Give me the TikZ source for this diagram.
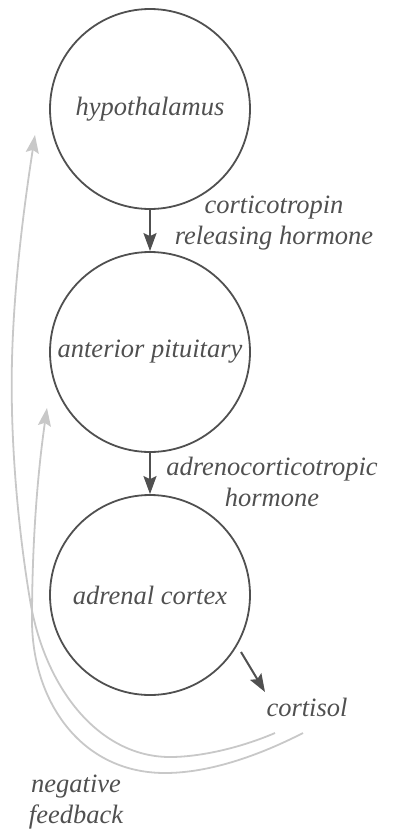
\documentclass[tikz,border=0pt]{standalone}
\usepackage{fontspec}
\setmainfont{Liberation Serif}
\usetikzlibrary{arrows.meta}
\definecolor{ink}{HTML}{505050}
\definecolor{fb}{HTML}{C8C8C8}
\tikzset{
  organ/.style={circle, draw=ink, line width=1.8pt, minimum size=200pt, inner sep=0pt,
    text=ink, font=\fontsize{26.5}{31}\selectfont\itshape},
  lbl/.style={text=ink, align=center, inner sep=0pt, font=\fontsize{26.5}{31}\selectfont\itshape},
  darrow/.style={draw=ink, line width=2pt, -{Stealth[length=18pt, width=13pt, inset=3pt]}},
  farrow/.style={draw=fb, line width=1.8pt, -{Stealth[length=18pt, width=13pt, inset=3pt]}}
}
\begin{document}
\begin{tikzpicture}[x=1pt, y=-1pt]
\useasboundingbox (0,0) rectangle (395,830);
\node[organ] (hypo) at (150,109) {hypothalamus};
\node[organ] (pit) at (150,352) {anterior pituitary};
\node[organ] (adr) at (150,595) {adrenal cortex};
\draw[darrow] (hypo.south) -- (pit.north);
\draw[darrow] (pit.south) -- (adr.north);
\node[lbl] (l1) at (274,223) {corticotropin\\releasing hormone};
\node[lbl] (l2) at (272,482) {adrenocorticotropic\\hormone};
\node[lbl] (cort) at (307,707) {cortisol};
\node[lbl] (neg) at (76,802) {negative\\feedback};
\coordinate (c1) at (241,652);
\coordinate (c2) at (265,692);
\draw[darrow] (c1) -- (c2);
% feedback to hypothalamus (inner curve)
\coordinate (s1) at (275,733);
\coordinate (t1) at (35,135);
\draw[farrow] (s1) .. controls (240,748) and (200,757) .. (170,757)
  .. controls (100,757) and (45,690) .. (30,600)
  .. controls (18,528) and (10,440) .. (12,360)
  .. controls (14,280) and (25,200) .. (t1);
% feedback to pituitary (outer curve)
\coordinate (s2) at (303,733);
\coordinate (t2) at (47,408);
\draw[farrow] (s2) .. controls (260,755) and (210,773) .. (165,773)
  .. controls (80,773) and (32,700) .. (32,620)
  .. controls (32,540) and (38,470) .. (t2);
\end{tikzpicture}
\end{document}
